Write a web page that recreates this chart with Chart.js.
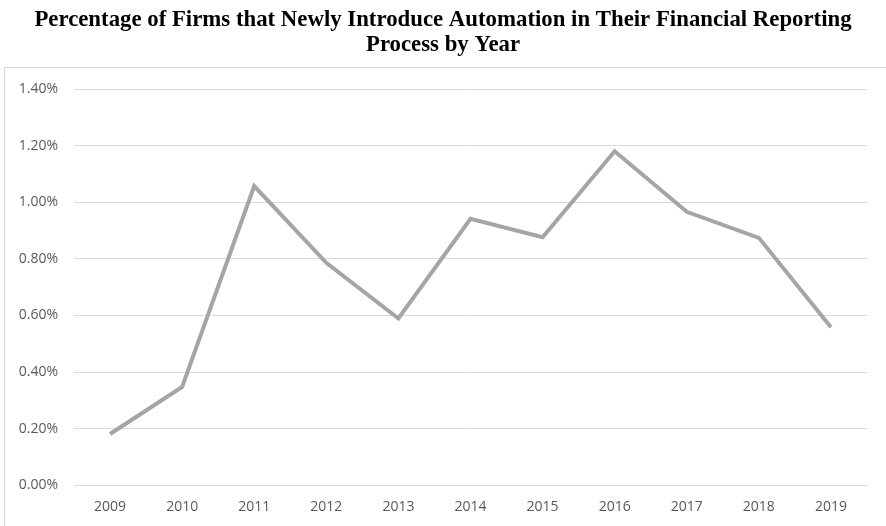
<!DOCTYPE html>
<html>
<head>
<meta charset="utf-8">
<script src="https://cdn.jsdelivr.net/npm/chart.js@4/dist/chart.umd.min.js"></script>
<style>
  html, body { margin: 0; padding: 0; background: #fff; }
  #wrap { width: 886px; height: 526px; position: relative; }
</style>
</head>
<body>
<div id="wrap"><canvas id="automationChart" width="886" height="526"></canvas></div>
<script>
/** Share of firms newly automating financial reporting, per year */

const years = ['2009', '2010', '2011', '2012', '2013', '2014', '2015', '2016', '2017', '2018', '2019'];
const newAutomationPct = [0.181, 0.347, 1.057, 0.786, 0.589, 0.941, 0.876, 1.180, 0.966, 0.874, 0.558];
const yRange = { min: 0, max: 1.4, step: 0.2 };
const titleLines = [
  'Percentage of Firms that Newly Introduce Automation in Their Financial Reporting',
  'Process by Year'
];

// light frame around the plot, sits under the title like the original
const frame = {
  id: 'frame',
  beforeDraw(chart) {
    const c = chart.ctx;
    c.save();
    c.strokeStyle = '#d9d9d9';
    c.lineWidth = 1;
    c.strokeRect(4.5, 67.5, 900, 500);
    c.restore();
  }
};

const tickFont = { family: '"Open Sans", "Noto Sans", sans-serif', size: 14 };

new Chart(document.getElementById('automationChart'), {
  type: 'line',
  data: {
    labels: years,
    datasets: [{
      data: newAutomationPct,
      borderColor: '#a5a5a5',
      borderWidth: 4,
      pointRadius: 0,
      tension: 0,
      fill: false
    }]
  },
  options: {
    responsive: false,
    animation: false,
    // symmetric side padding keeps the title centred on the page
    layout: { padding: { left: 19, right: 19, top: 0, bottom: -2 } },
    plugins: {
      legend: { display: false },
      tooltip: { enabled: false },
      title: {
        display: true,
        text: titleLines,
        color: '#000',
        font: { family: '"Liberation Serif", "Times New Roman", serif', size: 22.8, weight: 'bold', lineHeight: '25px' },
        padding: { top: 8, bottom: 31 }
      }
    },
    scales: {
      x: {
        offset: true,
        grid: { display: false, drawTicks: false },
        border: { display: false },
        ticks: { color: '#595959', font: tickFont, padding: 13, maxRotation: 0 }
      },
      y: {
        min: yRange.min,
        max: yRange.max,
        afterFit(s) { s.width = 55; },
        grid: { color: '#d9d9d9', lineWidth: 1, drawTicks: false },
        border: { display: false },
        ticks: {
          stepSize: yRange.step,
          color: '#595959',
          font: tickFont,
          padding: 16,
          callback: v => v.toFixed(2) + '%'
        }
      }
    }
  },
  plugins: [frame]
});
</script>
</body>
</html>
